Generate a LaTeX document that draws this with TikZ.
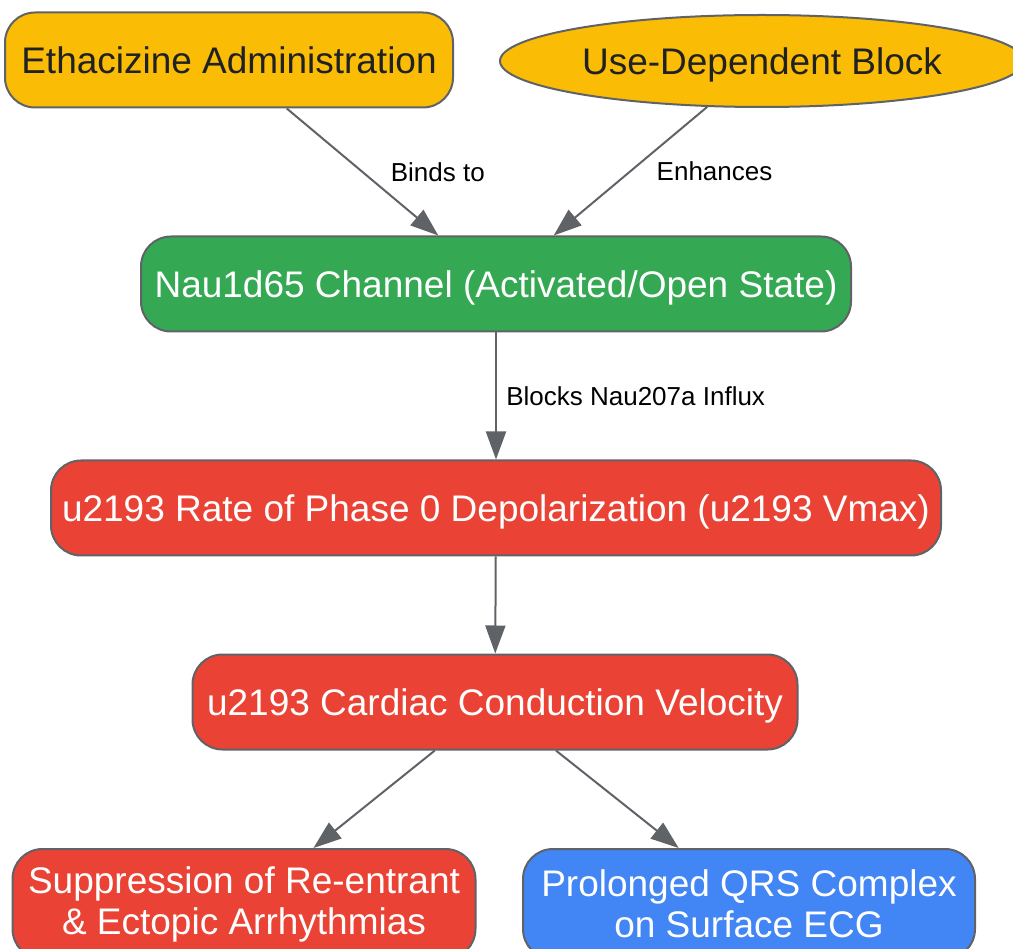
\documentclass[tikz,border=0pt]{standalone}
\usepackage{fontspec}
\setmainfont{Liberation Sans}
\usetikzlibrary{shapes.geometric,arrows.meta}
\definecolor{gyellow}{HTML}{FBBC05}
\definecolor{ggreen}{HTML}{34A853}
\definecolor{gred}{HTML}{EA4335}
\definecolor{gblue}{HTML}{4285F4}
\definecolor{ggray}{HTML}{5F6368}
\definecolor{gdark}{HTML}{202124}

\begin{document}
\begin{tikzpicture}[x=1pt,y=-1pt,
    box/.style={draw=ggray, line width=2pt, rounded corners=30pt, minimum height=95pt,
        inner sep=0pt, text=white, align=center, font=\fontsize{37}{41}\selectfont},
    oneline/.style={text height=26.5pt, text depth=0pt},
    link/.style={draw=ggray, line width=2pt, -{Triangle[length=28pt,width=20pt]}},
    tag/.style={font=\fontsize{26}{30}\selectfont, text=black, anchor=west}]
    \useasboundingbox (0,0) rectangle (1013,949);
    \clip (0,0) rectangle (1013,949);
    % Top row
    \node[box, oneline, fill=gyellow, text=gdark, minimum width=448pt] (admin) at (229,60) {Ethacizine Administration};
    \node[ellipse, oneline, draw=ggray, line width=2pt, fill=gyellow, text=gdark, inner sep=0pt,
        minimum width=524pt, minimum height=92pt, font=\fontsize{37}{41}\selectfont] (block) at (762,61) {Use-Dependent Block};
    % Channel and effects
    \node[box, oneline, fill=ggreen, minimum width=710pt] (channel) at (496,284) {Nau1d65 Channel (Activated/Open State)};
    \node[box, oneline, fill=gred, minimum width=890pt] (rate) at (496,508) {u2193 Rate of Phase 0 Depolarization (u2193 Vmax)};
    \node[box, oneline, fill=gred, minimum width=605pt] (velocity) at (495,702) {u2193 Cardiac Conduction Velocity};
    % Outcomes
    \node[box, fill=gred, minimum width=463pt, minimum height=110pt] (suppress) at (244,904) {Suppression of Re-entrant\\\& Ectopic Arrhythmias};
    \node[box, fill=gblue, minimum width=452pt, minimum height=110pt] (qrs) at (749,904) {Prolonged QRS Complex\\on Surface ECG};
    % Connectors
    \draw[link] (admin) -- (channel) node[tag, midway, xshift=24pt] {Binds to};
    \draw[link] (block) -- (channel) node[tag, midway, xshift=22pt] {Enhances};
    \draw[link] (channel) -- (rate) node[tag, midway, xshift=6pt] {Blocks Nau207a Influx};
    \draw[link] (rate) -- (velocity);
    \draw[link] (velocity) -- (suppress);
    \draw[link] (velocity) -- (qrs);
\end{tikzpicture}
\end{document}
